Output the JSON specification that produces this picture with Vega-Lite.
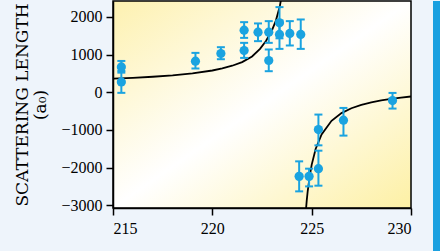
{
  "$schema": "https://vega.github.io/schema/vega-lite/v6.json",
  "background": "#eef4fb",
  "padding": {"left": 13, "top": 0, "right": 0, "bottom": 0},
  "autosize": {"type": "pad"},
  "spacing": 22,
  "bounds": "flush",
  "datasets": {
    "curve": [
      {"B": 215, "a": 360, "branch": "L"},
      {"B": 216, "a": 382, "branch": "L"},
      {"B": 217, "a": 411, "branch": "L"},
      {"B": 218, "a": 448, "branch": "L"},
      {"B": 219, "a": 500, "branch": "L"},
      {"B": 220, "a": 577, "branch": "L"},
      {"B": 220.5, "a": 632, "branch": "L"},
      {"B": 221, "a": 703, "branch": "L"},
      {"B": 221.5, "a": 800, "branch": "L"},
      {"B": 222, "a": 950, "branch": "L"},
      {"B": 222.4, "a": 1150, "branch": "L"},
      {"B": 222.7, "a": 1360, "branch": "L"},
      {"B": 223.0, "a": 1640, "branch": "L"},
      {"B": 223.2, "a": 1900, "branch": "L"},
      {"B": 223.4, "a": 2290, "branch": "L"},
      {"B": 223.5, "a": 2580, "branch": "L"},
      {"B": 223.6, "a": 2980, "branch": "L"},
      {"B": 224.68, "a": -3327, "branch": "R"},
      {"B": 224.75, "a": -2881, "branch": "R"},
      {"B": 224.8, "a": -2626, "branch": "R"},
      {"B": 224.9, "a": -2230, "branch": "R"},
      {"B": 225.0, "a": -1925, "branch": "R"},
      {"B": 225.2, "a": -1505, "branch": "R"},
      {"B": 225.5, "a": -1117, "branch": "R"},
      {"B": 226, "a": -757, "branch": "R"},
      {"B": 226.5, "a": -554, "branch": "R"},
      {"B": 227, "a": -424, "branch": "R"},
      {"B": 227.5, "a": -333, "branch": "R"},
      {"B": 228, "a": -266, "branch": "R"},
      {"B": 228.5, "a": -214, "branch": "R"},
      {"B": 229, "a": -173, "branch": "R"},
      {"B": 229.5, "a": -140, "branch": "R"},
      {"B": 230, "a": -113, "branch": "R"}
    ],
    "points": [
      {"B": 215.42, "a": 672, "lo": 520, "hi": 830},
      {"B": 215.42, "a": 274, "lo": -16, "hi": 564},
      {"B": 219.15, "a": 823, "lo": 630, "hi": 1044},
      {"B": 220.43, "a": 1028, "lo": 876, "hi": 1195},
      {"B": 221.6, "a": 1107, "lo": 911, "hi": 1310},
      {"B": 221.6, "a": 1647, "lo": 1442, "hi": 1859},
      {"B": 222.3, "a": 1594, "lo": 1355, "hi": 1825},
      {"B": 222.84, "a": 1594, "lo": 1310, "hi": 1886},
      {"B": 222.84, "a": 842, "lo": 558, "hi": 1134},
      {"B": 223.38, "a": 1841, "lo": 1430, "hi": 2258},
      {"B": 223.38, "a": 1532, "lo": 1150, "hi": 1900},
      {"B": 223.9, "a": 1559, "lo": 1240, "hi": 1886},
      {"B": 224.45, "a": 1532, "lo": 1150, "hi": 1930},
      {"B": 224.37, "a": -2231, "lo": -2629, "hi": -1833},
      {"B": 224.87, "a": -2231, "lo": -2497, "hi": -2027},
      {"B": 225.34, "a": -2027, "lo": -2478, "hi": -1550},
      {"B": 225.34, "a": -991, "lo": -1408, "hi": -592},
      {"B": 226.6, "a": -740, "lo": -1150, "hi": -416},
      {"B": 229.07, "a": -221, "lo": -433, "hi": -18}
    ]
  },
  "hconcat": [
    {
      "width": 298,
      "height": 207,
      "view": {
        "stroke": "#000000",
        "strokeWidth": 1.5,
        "fill": {
          "gradient": "linear",
          "x1": 0, "y1": 0, "x2": 1, "y2": 1,
          "stops": [
            {"offset": 0, "color": "#fdf1b0"},
            {"offset": 0.5, "color": "#ffffff"},
            {"offset": 1, "color": "#fdf0a4"}
          ]
        }
      },
      "layer": [
        {
          "data": {"name": "curve"},
          "mark": {"type": "line", "color": "#000000", "strokeWidth": 1.8, "clip": true},
          "encoding": {
            "x": {"field": "B", "type": "quantitative", "scale": {"domain": [215, 230], "nice": false}},
            "y": {"field": "a", "type": "quantitative", "scale": {"domain": [-3070, 2420], "nice": false}},
            "detail": {"field": "branch"}
          }
        },
        {
          "data": {"name": "points"},
          "mark": {"type": "rule", "color": "#1aa3e0", "strokeWidth": 2},
          "encoding": {
            "x": {"field": "B", "type": "quantitative"},
            "y": {"field": "lo", "type": "quantitative"},
            "y2": {"field": "hi"}
          }
        },
        {
          "data": {"name": "points"},
          "mark": {"type": "tick", "orient": "horizontal", "size": 8, "thickness": 2, "color": "#1aa3e0", "opacity": 1},
          "encoding": {
            "x": {"field": "B", "type": "quantitative"},
            "y": {"field": "lo", "type": "quantitative"}
          }
        },
        {
          "data": {"name": "points"},
          "mark": {"type": "tick", "orient": "horizontal", "size": 8, "thickness": 2, "color": "#1aa3e0", "opacity": 1},
          "encoding": {
            "x": {"field": "B", "type": "quantitative"},
            "y": {"field": "hi", "type": "quantitative"}
          }
        },
        {
          "data": {"name": "points"},
          "mark": {"type": "circle", "size": 85, "color": "#1aa3e0", "opacity": 1},
          "encoding": {
            "x": {"field": "B", "type": "quantitative",
              "axis": {"values": [215, 220, 225, 230], "title": null, "format": "d",
                "labelFont": "Liberation Serif", "labelFontSize": 16, "labelPadding": 5}},
            "y": {"field": "a", "type": "quantitative",
              "axis": {"values": [-3000, -2000, -1000, 0, 1000, 2000], "format": "d",
                "labelFont": "Liberation Serif", "labelFontSize": 16,
                "titleFont": "DejaVu Serif", "titleFontSize": 17, "titleLineHeight": 18, "titlePadding": 11,
                "title": ["SCATTERING LENGTH", "(a₀)"]}}
          }
        }
      ]
    },
    {
      "width": 7,
      "height": 251,
      "view": {"fill": "#1aa0e0", "stroke": null},
      "data": {"values": [{}]},
      "mark": {"type": "point", "opacity": 0}
    }
  ],
  "config": {
    "style": {
      "guide-label": {"font": "Liberation Serif", "fontSize": 16, "fill": "#000000"},
      "guide-title": {"font": "DejaVu Serif", "fontSize": 17, "fill": "#000000"}
    },
    "axis": {
      "labelFont": "Liberation Serif",
      "labelFontSize": 16,
      "labelColor": "#000000",
      "titleFont": "DejaVu Serif",
      "titleFontSize": 17,
      "titleFontWeight": "normal",
      "titleColor": "#000000",
      "titleLineHeight": 18,
      "domainColor": "#000000",
      "domainWidth": 1.5,
      "tickColor": "#000000",
      "tickWidth": 1.5,
      "tickSize": 7,
      "grid": false,
      "labelPadding": 4,
      "titlePadding": 11
    }
  }
}
